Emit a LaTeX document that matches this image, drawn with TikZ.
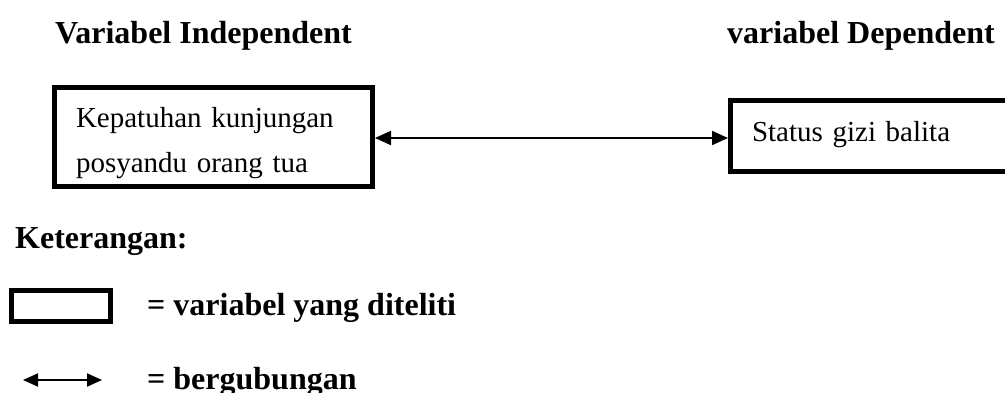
\documentclass[tikz,border=0pt]{standalone}
\usepackage{fontspec}
\setmainfont{Liberation Serif}
\usetikzlibrary{arrows.meta}
\tikzset{
  varbox/.style={draw=black, line width=5pt, inner sep=0pt, inner xsep=21.5pt,
    font=\fontsize{29pt}{45pt}\selectfont, align=left},
  titletext/.style={anchor=base west, inner sep=0pt, font=\fontsize{32pt}{38pt}\selectfont\bfseries},
  biarrow/.style={line width=2pt, {Triangle[length=16pt,width=14pt]}-{Triangle[length=16pt,width=14pt]}},
  legarrow/.style={line width=2pt, {Triangle[length=15pt,width=13pt]}-{Triangle[length=15pt,width=13pt]}}
}
\begin{document}
\begin{tikzpicture}[x=1pt,y=-1pt]
\useasboundingbox (0,0) rectangle (1005,392);
\clip (0,0) rectangle (1005,392);
% titles
\node[titletext] (tind) at (55,43) {Variabel Independent};
\node[titletext] (tdep) at (727,43) {variabel Dependent};
% boxes
\node[varbox, minimum width=318pt, minimum height=99pt, text width=275pt,
      text height=20pt, text depth=40pt] (ind) at (213.5,137)
  {Kepatuhan kunjungan\\posyandu orang tua};
\node[varbox, minimum width=330pt, minimum height=71pt, text width=287pt,
      text height=20pt, text depth=10pt] (dep) at (895.5,136)
  {Status gizi balita};
% connector
\draw[biarrow] (ind.east |- 0,138) -- (dep.west |- 0,138);
% legend
\node[titletext] (ket) at (15,248) {Keterangan:};
\node[draw=black, line width=5pt, minimum width=99.3pt, minimum height=30.7pt, inner sep=0pt] (legbox) at (61.2,306.2) {};
\node[titletext] (legboxtext) at (147,315) {= variabel yang diteliti};
\coordinate (la) at (23,380);
\coordinate (lb) at (102,380);
\draw[legarrow] (la) -- (lb);
\node[titletext] (legarrtext) at (147,389) {= bergubungan};
\end{tikzpicture}
\end{document}
